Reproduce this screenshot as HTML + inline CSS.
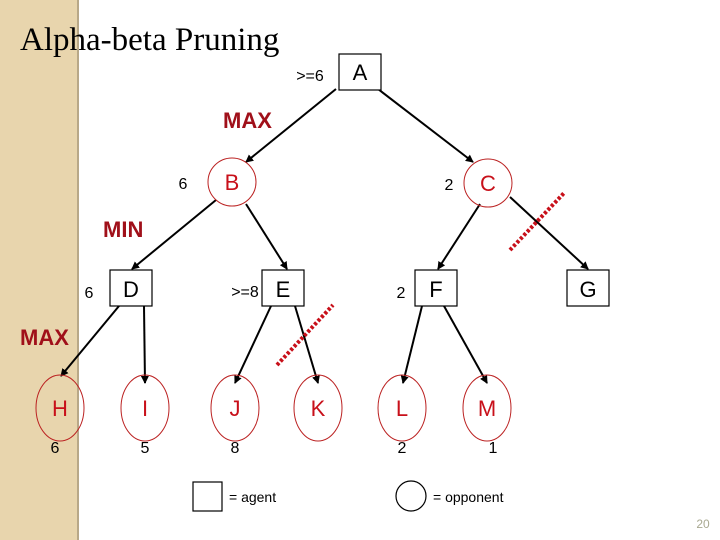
<!DOCTYPE html>
<html><head><style>
body{margin:0;width:720px;height:540px;overflow:hidden;background:#fff;position:relative}
svg{position:absolute;left:0;top:0}
</style></head><body>
<svg width="720" height="540" xmlns="http://www.w3.org/2000/svg" font-family="Liberation Sans, sans-serif">
<defs><marker id="ar" markerWidth="8" markerHeight="8" refX="7" refY="4" orient="auto" markerUnits="userSpaceOnUse"><path d="M0,0 L8,4 L0,8 z" fill="#000"/></marker></defs>
<rect x="0" y="0" width="78" height="540" fill="#e8d5ad"/>
<rect x="77" y="0" width="2" height="540" fill="#b8a888"/>
<text x="20" y="50" font-family="Liberation Serif, serif" font-size="33">Alpha-beta Pruning</text>
<g stroke="#000" stroke-width="2" marker-end="url(#ar)">
<line x1="336" y1="89" x2="246" y2="162"/>
<line x1="378" y1="89" x2="473" y2="162"/>
<line x1="216" y1="200" x2="132" y2="269"/>
<line x1="246" y1="204" x2="287" y2="269"/>
<line x1="480" y1="204" x2="438" y2="269"/>
<line x1="510" y1="197" x2="588" y2="269"/>
<line x1="119" y1="306" x2="61" y2="376"/>
<line x1="144" y1="306" x2="145" y2="383"/>
<line x1="271" y1="306" x2="235" y2="383"/>
<line x1="295" y1="306" x2="318" y2="383"/>
<line x1="422" y1="306" x2="403" y2="383"/>
<line x1="444" y1="306" x2="487" y2="383"/>
</g>
<g fill="#fff" stroke="#000" stroke-width="1.2">
<rect x="339" y="54" width="42" height="36"/>
<rect x="110" y="270" width="42" height="36"/>
<rect x="262" y="270" width="42" height="36"/>
<rect x="415" y="270" width="42" height="36"/>
<rect x="567" y="270" width="42" height="36"/>
<rect x="193" y="482" width="29" height="29"/>
<ellipse cx="411" cy="496" rx="15" ry="15"/>
</g>
<g fill="none" stroke="#b22" stroke-width="1">
<circle cx="232" cy="182" r="24"/>
<circle cx="488" cy="183" r="24"/>
<ellipse cx="60" cy="408" rx="24" ry="33"/>
<ellipse cx="145" cy="408" rx="24" ry="33"/>
<ellipse cx="235" cy="408" rx="24" ry="33"/>
<ellipse cx="318" cy="408" rx="24" ry="33"/>
<ellipse cx="402" cy="408" rx="24" ry="33"/>
<ellipse cx="487" cy="408" rx="24" ry="33"/>
</g>
<g stroke="#c8101a" stroke-width="4" stroke-dasharray="3,2">
<line x1="510" y1="250" x2="565" y2="192"/>
<line x1="277" y1="365" x2="333" y2="305"/>
</g>
<g font-size="22" text-anchor="middle">
<text x="360" y="80">A</text>
<text x="131" y="297">D</text>
<text x="283" y="297">E</text>
<text x="436" y="297">F</text>
<text x="588" y="297">G</text>
</g>
<g font-size="22" text-anchor="middle" fill="#c8101a">
<text x="232" y="190">B</text>
<text x="488" y="191">C</text>
<text x="60" y="416">H</text>
<text x="145" y="416">I</text>
<text x="235" y="416">J</text>
<text x="318" y="416">K</text>
<text x="402" y="416">L</text>
<text x="487" y="416">M</text>
</g>
<g font-size="22" font-weight="bold" fill="#a0101a">
<text x="223" y="128">MAX</text>
<text x="103" y="237">MIN</text>
<text x="20" y="345">MAX</text>
</g>
<g font-size="16" text-anchor="middle">
<text x="310" y="81">&gt;=6</text>
<text x="183" y="189">6</text>
<text x="449" y="190">2</text>
<text x="89" y="298">6</text>
<text x="245" y="297">&gt;=8</text>
<text x="401" y="298">2</text>
<text x="55" y="453">6</text>
<text x="145" y="453">5</text>
<text x="235" y="453">8</text>
<text x="402" y="453">2</text>
<text x="493" y="453">1</text>
</g>
<text x="229" y="502" font-size="14">= agent</text>
<text x="433" y="502" font-size="14">= opponent</text>
<text x="703" y="528" font-size="12" fill="#a8a890" text-anchor="middle">20</text>
</svg>
</body></html>
